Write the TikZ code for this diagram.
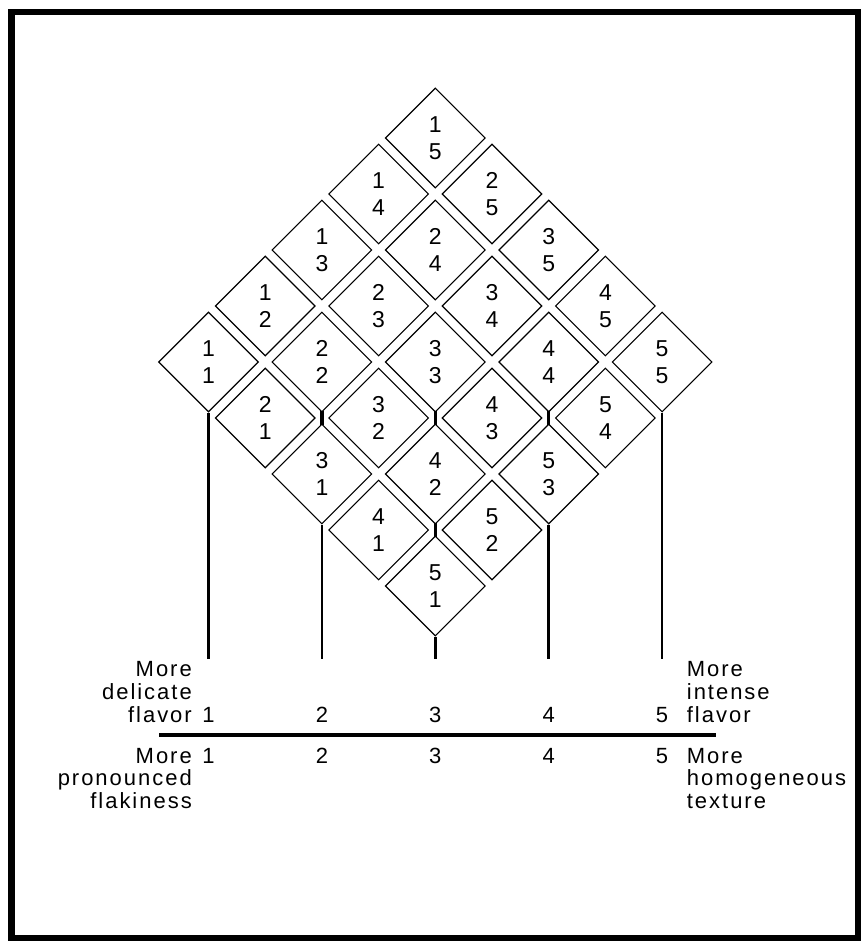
\documentclass[tikz,border=0pt]{standalone}
\usepackage{fontspec}
\setmainfont{Liberation Sans}[LetterSpace=9]
\usetikzlibrary{shapes.geometric}
\begin{document}
\begin{tikzpicture}[x=1pt,y=-1pt,
  cell/.style={diamond, draw, line width=1.15pt, minimum width=100pt, minimum height=100pt, inner sep=0pt, align=center, font=\fontsize{23}{27}\selectfont},
  stem/.style={line width=2.7pt},
  link/.style={line width=3.3pt},
  axis/.style={line width=3.5pt},
  frame/.style={line width=6.5pt},
  lbl/.style={inner sep=0pt, font=\fontsize{22}{23}\selectfont}]
\useasboundingbox (0,0) rectangle (861,941);
\draw[frame] (11.5,12) rectangle (858,938);

\foreach \i in {1,...,5} {
  \foreach \j in {1,...,5} {
    \pgfmathsetmacro\cx{208.5+56.7*(\i+\j-2)}
    \pgfmathsetmacro\cy{362+56*(\i-\j)}
    \node[cell] (d\i\j) at (\cx,\cy) {\i\\\j};
  }
}

% short links between stacked cells
\draw[link] ([yshift=2pt]d22.south) -- ([yshift=-2pt]d31.north);
\draw[link] ([yshift=2pt]d33.south) -- ([yshift=-2pt]d42.north);
\draw[link] ([yshift=2pt]d42.south) -- ([yshift=-2pt]d51.north);
\draw[link] ([yshift=2pt]d44.south) -- ([yshift=-2pt]d53.north);

% stems down to the scale
\coordinate (ybot) at (0,659);
\coordinate (yu) at (0,722.7);
\coordinate (yl) at (0,763);
\draw[stem] (d11.south) -- (d11.south |- ybot);
\draw[stem] (d31.south) -- (d31.south |- ybot);
\draw[stem] (d51.south) -- (d51.south |- ybot);
\draw[stem] (d53.south) -- (d53.south |- ybot);
\draw[stem] (d55.south) -- (d55.south |- ybot);

% axis
\coordinate (axL) at (159,735);
\coordinate (axR) at (716,735);
\draw[axis] (axL) -- (axR);

% scale numbers
\node[lbl, anchor=base] (u1) at (d11.south |- yu) {1};
\node[lbl, anchor=base] (u2) at (d31.south |- yu) {2};
\node[lbl, anchor=base] (u3) at (d51.south |- yu) {3};
\node[lbl, anchor=base] (u4) at (d53.south |- yu) {4};
\node[lbl, anchor=base] (u5) at (d55.south |- yu) {5};
\node[lbl, anchor=base] (b1) at (d11.south |- yl) {1};
\node[lbl, anchor=base] (b2) at (d31.south |- yl) {2};
\node[lbl, anchor=base] (b3) at (d51.south |- yl) {3};
\node[lbl, anchor=base] (b4) at (d53.south |- yl) {4};
\node[lbl, anchor=base] (b5) at (d55.south |- yl) {5};

% left labels
\node[lbl, anchor=base east] (la1) at (192,676.7) {More};
\node[lbl, anchor=base east] (la2) at (192,699.5) {delicate};
\node[lbl, anchor=base east] (la3) at (192,722.7) {flavor};
\node[lbl, anchor=base east] (lb1) at (192,763) {More};
\node[lbl, anchor=base east] (lb2) at (192,785.5) {pronounced};
\node[lbl, anchor=base east] (lb3) at (192,808) {flakiness};

% right labels
\node[lbl, anchor=base west] (ra1) at (686.7,676.7) {More};
\node[lbl, anchor=base west] (ra2) at (686.7,699.5) {intense};
\node[lbl, anchor=base west] (ra3) at (686.7,722.7) {flavor};
\node[lbl, anchor=base west] (rb1) at (686.7,763) {More};
\node[lbl, anchor=base west] (rb2) at (686.7,785.5) {homogeneous};
\node[lbl, anchor=base west] (rb3) at (686.7,808) {texture};
\end{tikzpicture}
\end{document}
